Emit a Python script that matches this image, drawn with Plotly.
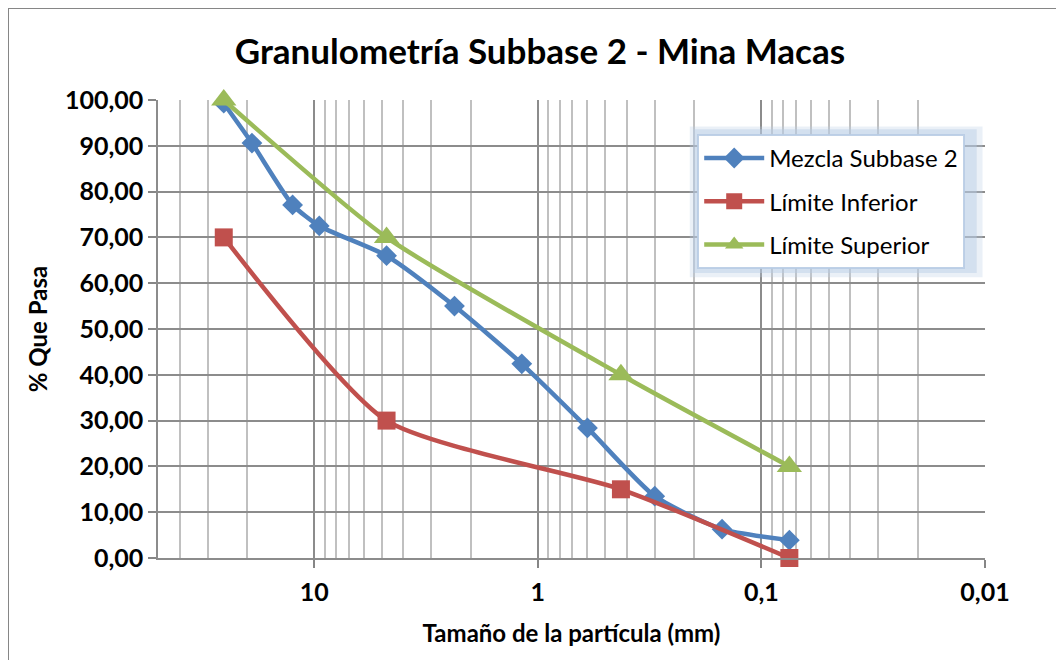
import math
import plotly.graph_objects as go

# Sieve sizes (mm) and % passing
sizes_mezcla = [25.4, 19.0, 12.5, 9.5, 4.75, 2.36, 1.18, 0.6, 0.3, 0.15, 0.075]
pasa_mezcla = [99.3, 90.6, 77.1, 72.5, 66.0, 55.0, 42.4, 28.4, 13.5, 6.3, 3.9]

sizes_limites = [25.4, 4.75, 0.425, 0.075]
limite_inferior = [70, 30, 15, 0]
limite_superior = [100, 70, 40, 20]

x_tickvals = [10, 1, 0.1, 0.01]
x_ticktext = ["10", "1", "0,1", "0,01"]
x_minor = [50, 40, 30, 20,
           9, 8, 7, 6, 5, 4, 3, 2,
           0.9, 0.8, 0.7, 0.6, 0.5, 0.4, 0.3, 0.2,
           0.09, 0.08, 0.07, 0.06, 0.05, 0.04, 0.03, 0.02]

FONT = "Lato"
BLUE = "#4F81BD"
RED = "#C0504D"
GREEN = "#9BBB59"

fig = go.Figure()
fig.add_trace(go.Scatter(
    x=sizes_mezcla, y=pasa_mezcla, name="Mezcla Subbase 2", legendgroup="a",
    mode="lines+markers", line=dict(color=BLUE, width=4.5, shape="spline", smoothing=0.6),
    marker=dict(symbol="diamond", size=16, color=BLUE), cliponaxis=False))
fig.add_trace(go.Scatter(
    x=sizes_limites, y=limite_inferior, name="Límite Inferior", legendgroup="b",
    mode="lines+markers", line=dict(color=RED, width=4.5, shape="spline", smoothing=0.6),
    marker=dict(symbol="square", size=18, color=RED), cliponaxis=False))
fig.add_trace(go.Scatter(
    x=sizes_limites, y=limite_superior, name="Límite Superior", legendgroup="c",
    mode="lines+markers", line=dict(color=GREEN, width=4.5, shape="spline", smoothing=0.6),
    marker=dict(symbol="triangle-up", size=22, color=GREEN), cliponaxis=False))

tickfont = dict(size=25, family=FONT, color="black", weight="bold")

fig.update_layout(
    width=1064, height=660,
    margin=dict(l=150, r=87, t=92, b=110),
    paper_bgcolor="white", plot_bgcolor="white",
    separators=",.",
    font=dict(family=FONT, color="black"),
    title=dict(text="<b>Granulometría Subbase 2 - Mina Macas</b>",
               x=0.5, xanchor="center", y=0.933, yanchor="middle",
               font=dict(size=35, family=FONT, color="black")),
    xaxis=dict(
        type="log", range=[math.log10(50), -2],
        tickmode="array", tickvals=x_tickvals, ticktext=x_ticktext,
        tickfont=tickfont, ticklabelstandoff=3,
        ticks="outside", ticklen=8, tickcolor="#868686", tickwidth=1.5,
        showgrid=True, gridcolor="#8C8C8C", gridwidth=1.5,
        showline=True, linecolor="#8C8C8C", linewidth=1.5,
        minor=dict(tickvals=x_minor, showgrid=True, gridcolor="#C0C0C0", gridwidth=1.5, ticks=""),
        title=dict(text="<b>Tamaño de la partícula (mm)</b>",
                   font=dict(size=24, family=FONT), standoff=20),
        zeroline=False),
    yaxis=dict(
        range=[0, 100], dtick=10, tickformat=".2f",
        tickfont=tickfont,
        ticks="outside", ticklen=8, tickcolor="#868686", tickwidth=1.5,
        showgrid=True, gridcolor="#8C8C8C", gridwidth=1.5,
        showline=True, linecolor="#8C8C8C", linewidth=1.5,
        title=dict(text="<b>% Que Pasa</b>", font=dict(size=24, family=FONT), standoff=10),
        zeroline=False),
    legend=dict(
        x=0.652, y=0.926, xanchor="left", yanchor="top",
        bgcolor="white", bordercolor="rgba(184,204,228,0.9)", borderwidth=2,
        font=dict(size=24, family=FONT, color="black"),
        itemsizing="trace", itemwidth=60, tracegroupgap=9),
    shapes=[
        dict(type="rect", xref="paper", yref="paper", x0=0.643, x1=0.997, y0=0.613, y1=0.942,
             fillcolor="rgba(184,204,228,0.3)", line=dict(width=0), layer="above"),
        dict(type="rect", xref="paper", yref="paper", x0=0.647, x1=0.99, y0=0.622, y1=0.936,
             fillcolor="rgba(184,204,228,0.45)", line=dict(width=0), layer="above"),
    ],
)
# outer chart frame (top and left edges visible)
fig.add_shape(type="line", xref="paper", yref="paper",
              x0=-150/827, x1=1 + 87/827, y0=1 + 92/458, y1=1 + 92/458,
              line=dict(color="#868686", width=2))
fig.add_shape(type="line", xref="paper", yref="paper",
              x0=-150/827, x1=-150/827, y0=1 + 92/458, y1=-110/458,
              line=dict(color="#868686", width=2))

fig.write_html("out.html")
